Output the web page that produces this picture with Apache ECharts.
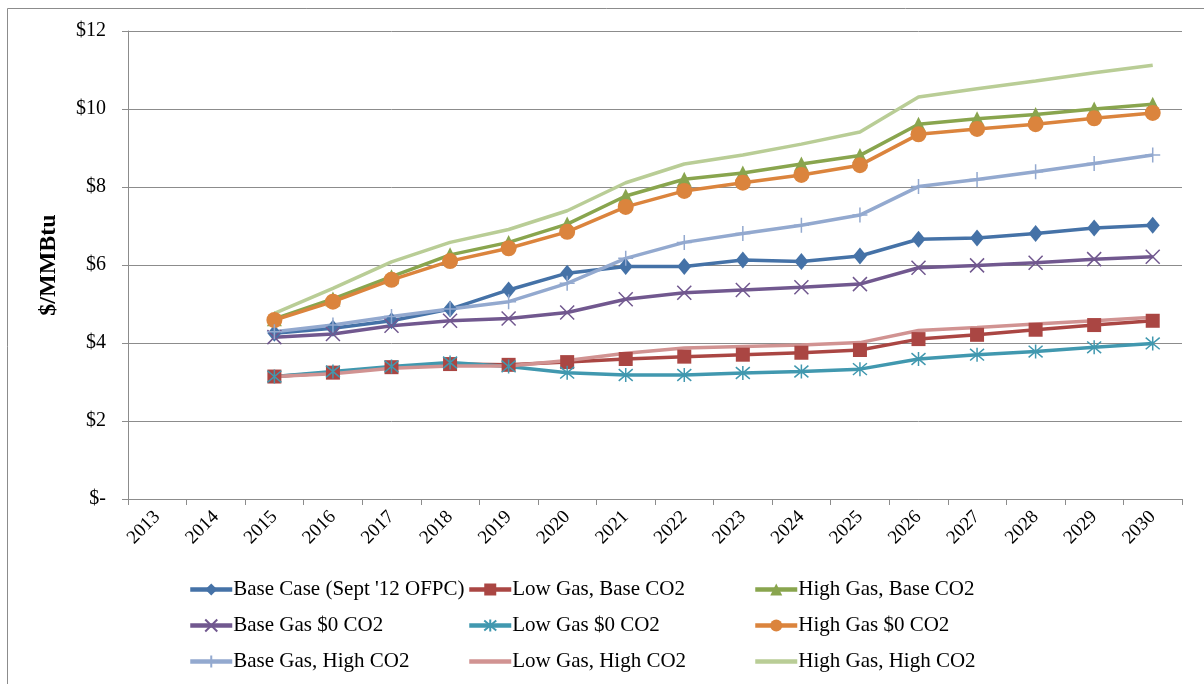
<!DOCTYPE html>
<html>
<head>
<meta charset="utf-8">
<title>Natural gas price forecast scenarios</title>
<script src="https://cdn.jsdelivr.net/npm/echarts@6/dist/echarts.min.js"></script>
<style>
  html, body { margin: 0; padding: 0; background: #ffffff; }
  #chart { width: 1204px; height: 684px; }
</style>
</head>
<body>
<div id="chart"></div>
<script>
// Forecast years on the category axis
const years = ['2013', '2014', '2015', '2016', '2017', '2018', '2019', '2020', '2021',
  '2022', '2023', '2024', '2025', '2026', '2027', '2028', '2029', '2030'];

// Gas price scenarios, $/MMBtu (no values before 2015)
const baseCase      = [null, null, 4.25, 4.38, 4.57, 4.87, 5.36, 5.79, 5.96, 5.96, 6.13, 6.09, 6.23, 6.66, 6.69, 6.81, 6.95, 7.02];
const lowGasBase    = [null, null, 3.14, 3.24, 3.38, 3.46, 3.44, 3.51, 3.59, 3.65, 3.70, 3.75, 3.82, 4.10, 4.21, 4.34, 4.46, 4.57];
const highGasBase   = [null, null, 4.62, 5.13, 5.70, 6.26, 6.58, 7.05, 7.77, 8.20, 8.36, 8.59, 8.81, 9.61, 9.75, 9.86, 10.00, 10.12];
const baseGasZero   = [null, null, 4.15, 4.23, 4.44, 4.57, 4.63, 4.78, 5.12, 5.29, 5.36, 5.43, 5.51, 5.93, 5.99, 6.06, 6.15, 6.21];
const lowGasZero    = [null, null, 3.14, 3.27, 3.40, 3.50, 3.40, 3.24, 3.18, 3.18, 3.23, 3.27, 3.33, 3.59, 3.70, 3.78, 3.89, 3.99];
const highGasZero   = [null, null, 4.59, 5.06, 5.62, 6.10, 6.43, 6.85, 7.49, 7.90, 8.11, 8.31, 8.56, 9.35, 9.49, 9.61, 9.76, 9.90];
const baseGasHigh   = [null, null, 4.29, 4.46, 4.68, 4.87, 5.06, 5.53, 6.17, 6.58, 6.81, 7.02, 7.28, 8.01, 8.19, 8.39, 8.60, 8.82];
const lowGasHigh    = [null, null, 3.14, 3.21, 3.35, 3.41, 3.41, 3.55, 3.74, 3.87, 3.91, 3.95, 4.01, 4.32, 4.40, 4.49, 4.57, 4.66];
const highGasHigh   = [null, null, 4.76, 5.40, 6.08, 6.58, 6.91, 7.39, 8.11, 8.59, 8.82, 9.10, 9.41, 10.31, 10.52, 10.72, 10.93, 11.12];

// Value axis ticks
const yTicks = [0, 2, 4, 6, 8, 10, 12];

const FONT = '"Liberation Serif", "Times New Roman", serif';
const GRID_GRAY = '#8c8c8c';

const SYM_X = 'path://M0,0L10,10M10,0L0,10';
const SYM_STAR = 'path://M0,1L10,11M10,1L0,11M5,0L5,12';
const SYM_PLUS = 'path://M5,0L5,10M0,5L10,5';

const seriesDefs = [
  { name: "Base Case (Sept '12 OFPC)", data: baseCase,    color: '#4572A7', symbol: 'diamond',  size: [14, 17] },
  { name: 'Low Gas, Base CO2',         data: lowGasBase,  color: '#AA4643', symbol: 'rect',     size: 14 },
  { name: 'High Gas, Base CO2',        data: highGasBase, color: '#89A54E', symbol: 'triangle', size: 15 },
  { name: 'Base Gas $0 CO2',           data: baseGasZero, color: '#71588F', symbol: SYM_X,      size: 14, stroke: true },
  { name: 'Low Gas $0 CO2',            data: lowGasZero,  color: '#4198AF', symbol: SYM_STAR,   size: 14, stroke: true },
  { name: 'High Gas $0 CO2',           data: highGasZero, color: '#DB843D', symbol: 'circle',   size: 16 },
  { name: 'Base Gas, High CO2',        data: baseGasHigh, color: '#93A9CF', symbol: SYM_PLUS,   size: 15, stroke: true },
  { name: 'Low Gas, High CO2',         data: lowGasHigh,  color: '#D19392', symbol: 'none',     size: 0 },
  { name: 'High Gas, High CO2',        data: highGasHigh, color: '#B9CD96', symbol: 'none',     size: 0 }
];

const series = seriesDefs.map(d => ({
  name: d.name,
  type: 'line',
  data: d.data,
  symbol: d.symbol,
  symbolSize: d.size,
  showSymbol: d.symbol !== 'none',
  connectNulls: false,
  lineStyle: { color: d.color, width: 3.5 },
  itemStyle: d.stroke
    ? { color: 'rgba(0,0,0,0)', borderColor: d.color, borderWidth: 1.5 }
    : { color: d.color, borderWidth: 0 },
  emphasis: { disabled: true }
}));

// Plain-line scenarios get a legend entry with the marker hidden
function legendItem(def) {
  if (def.symbol === 'none') {
    return { name: def.name, itemStyle: { opacity: 0 } };
  }
  return { name: def.name };
}

function legendColumn(idx, left) {
  return {
    orient: 'vertical',
    left: left,
    top: 579,
    padding: 0,
    itemWidth: 42,
    itemHeight: 15,
    itemGap: 15,
    data: idx.map(i => legendItem(seriesDefs[i])),
    lineStyle: { width: 4.5 },
    textStyle: { fontFamily: FONT, fontSize: 21, color: '#000', lineHeight: 21, padding: [0, 0, 0, -4] }
  };
}

const chart = echarts.init(document.getElementById('chart'), null, { renderer: 'canvas' });
chart.setOption({
  animation: false,
  backgroundColor: '#ffffff',
  grid: { left: 128, right: 22, top: 31, bottom: 185 },
  graphic: [{
    type: 'rect',
    shape: { x: 7.5, y: 8.5, width: 1300, height: 800 },
    style: { fill: 'none', stroke: GRID_GRAY, lineWidth: 1 },
    silent: true
  }],
  legend: [
    legendColumn([0, 3, 6], 188),
    legendColumn([1, 4, 7], 467),
    legendColumn([2, 5, 8], 753)
  ],
  xAxis: {
    type: 'category',
    data: years,
    boundaryGap: true,
    axisLine: { lineStyle: { color: GRID_GRAY, width: 1 } },
    axisTick: { show: true, length: 6, lineStyle: { color: GRID_GRAY } },
    axisLabel: { rotate: 45, margin: 15, fontFamily: FONT, fontSize: 19, color: '#000', interval: 0 },
    splitLine: { show: false }
  },
  yAxis: {
    type: 'value',
    min: yTicks[0],
    max: yTicks[yTicks.length - 1],
    interval: yTicks[1] - yTicks[0],
    name: '$/MMBtu',
    nameLocation: 'middle',
    nameRotate: 90,
    nameGap: 67,
    nameTextStyle: { fontFamily: FONT, fontSize: 24, fontWeight: 'bold', color: '#000' },
    axisLine: { show: true, lineStyle: { color: GRID_GRAY, width: 1 } },
    axisTick: { show: true, length: 6, lineStyle: { color: GRID_GRAY } },
    axisLabel: {
      margin: 22,
      fontFamily: FONT,
      fontSize: 20,
      color: '#000',
      formatter: v => (v === 0 ? '$-' : '$' + v)
    },
    splitLine: { show: true, lineStyle: { color: GRID_GRAY, width: 1 } }
  },
  series: series
});
</script>
</body>
</html>
